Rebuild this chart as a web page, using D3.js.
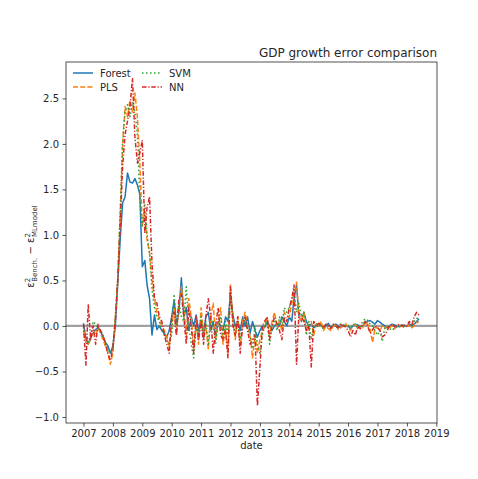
<!DOCTYPE html>
<html>
<head>
<meta charset="utf-8">
<script src="https://cdnjs.cloudflare.com/ajax/libs/d3/7.8.5/d3.min.js"></script>
<style>
  html, body { margin: 0; padding: 0; background: #ffffff; }
  svg text { font-family: "DejaVu Sans", sans-serif; fill: #262626; }
</style>
</head>
<body>
<svg id="chart" width="478" height="479"></svg>
<script>
// Monthly squared-error differences (benchmark minus model), Jan 2007 onward
const startMonth = new Date(2007, 0, 1);

const forest = [
  0.03, -0.15, -0.2, -0.12, -0.08, -0.04, -0.02, -0.06, -0.12, -0.18, -0.22, -0.3,
  -0.22, 0.0, 0.45, 0.95, 1.35, 1.42, 1.68, 1.58, 1.57, 1.62, 1.55, 1.45,
  0.65, 0.72, 0.45, 0.3, -0.1, 0.12, -0.04, 0.0, -0.05, -0.08, -0.12, -0.05,
  0.1, 0.28, 0.02, 0.15, 0.53, 0.1, 0.2, -0.05, 0.1, 0.0, 0.12, -0.05,
  0.05, -0.08, 0.1, 0.15, -0.05, 0.05, -0.12, 0.05, 0.0, -0.05, 0.1, 0.05,
  0.34, 0.12, 0.0, 0.05, -0.05, 0.1, 0.0, 0.1, -0.08, 0.05, -0.05, -0.12,
  -0.05, 0.0, -0.02, 0.05, 0.0, -0.05, 0.0, 0.02, 0.0, 0.1, 0.05, 0.0,
  0.1, 0.05, 0.3, 0.45, 0.1, 0.05, 0.15, 0.05, 0.0, 0.02, -0.02, 0.0,
  0.0, 0.02, -0.02, 0.0, 0.03, -0.02, 0.0, 0.02, 0.0, -0.02, 0.01, 0.0,
  0.0, -0.03, 0.0, 0.02, 0.01, -0.01, 0.0, 0.03, 0.05, 0.06, 0.04, 0.02,
  0.06, 0.04, 0.02, 0.0, -0.02, 0.0, 0.02, 0.01, 0.0, -0.01, 0.01, 0.0,
  0.0, 0.02, 0.0, 0.02, 0.05, 0.08
];

const pls = [
  -0.05, -0.18, -0.2, -0.15, -0.05, -0.1, -0.02, -0.08, -0.15, -0.22, -0.3, -0.42,
  -0.3, 0.1, 0.5, 1.2, 2.0, 2.41, 2.3, 2.48, 2.35, 2.56, 2.3, 1.8,
  1.1, 1.25, 0.95, 0.8, 0.5, 0.3, 0.15, 0.08, 0.0, -0.05, -0.12, -0.22,
  0.0, 0.2, -0.1, 0.25, 0.43, 0.2, -0.1, 0.3, 0.1, -0.25, 0.05, -0.2,
  0.2, -0.1, 0.0, -0.25, 0.1, 0.25, -0.15, 0.05, 0.2, -0.2, 0.0, -0.3,
  0.45, 0.05, -0.15, 0.1, -0.2, 0.05, 0.15, 0.0, -0.1, -0.35, -0.1, -0.3,
  -0.15, -0.05, 0.0, 0.1, -0.1, 0.05, 0.15, 0.0, 0.05, -0.05, 0.15, 0.1,
  0.1, 0.25, 0.35, 0.48, 0.1, 0.05, 0.15, -0.05, 0.0, 0.05, -0.1, 0.02,
  0.0, 0.05, -0.05, 0.0, -0.03, -0.05, 0.0, 0.02, -0.04, -0.02, 0.0, 0.03,
  -0.02, -0.05, 0.0, 0.02, -0.03, 0.0, -0.02, 0.04, 0.02, -0.04, -0.18, -0.02,
  -0.02, -0.05, 0.0, -0.03, 0.0, -0.02, 0.01, -0.03, 0.0, -0.01, 0.0, -0.02,
  0.0, 0.01, -0.02, 0.0, 0.03, 0.05
];

const svm = [
  0.0, -0.1, -0.18, -0.1, 0.05, 0.02, -0.02, -0.05, -0.12, -0.18, -0.25, -0.3,
  -0.25, 0.1, 0.5, 1.25, 2.0, 2.35, 2.43, 2.3, 2.46, 2.35, 2.1, 1.4,
  1.1, 1.33, 1.0, 0.8, 0.4, 0.2, 0.1, 0.05, -0.05, -0.1, -0.15, -0.2,
  -0.1, 0.35, 0.0, 0.26, 0.1, 0.05, 0.43, 0.0, -0.2, -0.35, 0.0, -0.1,
  0.1, -0.15, 0.05, -0.2, 0.1, 0.0, -0.2, 0.05, 0.1, -0.15, 0.05, -0.1,
  0.4, 0.1, -0.1, 0.05, -0.15, 0.0, 0.1, -0.05, -0.1, -0.25, 0.0, -0.2,
  -0.3, -0.1, 0.0, 0.05, -0.2, 0.0, 0.05, -0.05, 0.1, 0.0, 0.2, 0.15,
  0.2, 0.3, 0.4, 0.15, 0.25, 0.1, 0.15, -0.1, 0.05, -0.15, 0.0, 0.02,
  0.02, 0.0, -0.03, 0.02, 0.0, -0.02, 0.01, 0.0, -0.03, 0.02, 0.0, 0.01,
  0.0, -0.02, 0.02, 0.01, -0.02, 0.0, 0.05, 0.08, 0.06, 0.02, 0.0, -0.05,
  -0.1, -0.05, -0.17, -0.02, 0.0, -0.03, -0.05, -0.02, -0.01, 0.0, 0.01, -0.02,
  0.0, 0.02, 0.0, 0.05, 0.08, 0.1
];

const nn = [
  0.02, -0.43, 0.24, -0.15, 0.0, -0.2, 0.02, -0.05, -0.1, -0.2, -0.3, -0.38,
  -0.25, 0.05, 0.5, 1.1, 1.75, 2.1, 2.25, 2.41, 2.72, 2.08, 1.79, 1.9,
  2.04, 1.02, 1.3, 1.42, 0.7, 0.3, 0.25, 0.1, 0.05, -0.1, -0.2, -0.3,
  0.1, 0.15, -0.1, 0.3, 0.35, 0.1, -0.2, 0.2, 0.0, -0.3, 0.1, -0.15,
  0.05, -0.2, 0.1, 0.3, 0.1, -0.3, 0.0, 0.2, -0.1, -0.15, -0.05, -0.35,
  0.43, 0.0, -0.1, 0.1, -0.3, 0.0, 0.1, -0.05, -0.2, -0.15, -0.1, -0.88,
  -0.45, 0.0, 0.05, 0.1, -0.15, 0.0, 0.1, 0.02, -0.05, -0.15, 0.1, 0.05,
  0.2, 0.3, 0.45, -0.42, 0.15, 0.1, 0.05, -0.05, 0.0, -0.45, 0.05, 0.0,
  0.03, 0.0, -0.02, 0.02, 0.0, -0.03, 0.02, 0.0, -0.02, 0.02, 0.0, -0.01,
  -0.05, -0.12, -0.05, -0.1, 0.0, -0.03, 0.02, 0.05, 0.0, -0.08, -0.04, 0.0,
  -0.02, -0.05, -0.12, -0.1, -0.05, 0.0, 0.02, -0.01, 0.0, 0.02, 0.0, 0.01,
  0.0, 0.05, 0.0, 0.1, 0.15, 0.12
];

const seriesNames = ["Forest", "PLS", "SVM", "NN"];
const seriesColors = ["#1f77b4", "#ff7f0e", "#2ca02c", "#d62728"];
const seriesDash = [null, "5,2.2", "1.5,2.5", "4.5,1.8,1.2,1.8"];
const yTicks = [-1.0, -0.5, 0.0, 0.5, 1.0, 1.5, 2.0, 2.5];
const xTickYears = [2007, 2008, 2009, 2010, 2011, 2012, 2013, 2014, 2015, 2016, 2017, 2018, 2019];

const seriesValues = [forest, pls, svm, nn];
const dates = forest.map((_, i) => d3.timeMonth.offset(startMonth, i));

const svg = d3.select("#chart");
const m = { left: 66, right: 437, top: 62, bottom: 423 };

const x = d3.scaleTime()
  .domain([new Date(2006, 4, 29), new Date(2019, 0, 10)])
  .range([m.left, m.right]);
const y = d3.scaleLinear()
  .domain([-1.066, 2.9])
  .range([m.bottom, m.top]);

// clip for the plotting area
svg.append("defs").append("clipPath").attr("id", "plotClip")
  .append("rect")
  .attr("x", m.left).attr("y", m.top)
  .attr("width", m.right - m.left).attr("height", m.bottom - m.top);

const plot = svg.append("g").attr("clip-path", "url(#plotClip)");

// zero reference line
plot.append("line")
  .attr("x1", m.left).attr("x2", m.right)
  .attr("y1", y(0)).attr("y2", y(0))
  .attr("stroke", "#808080").attr("stroke-opacity", 0.75)
  .attr("stroke-width", 2.2);

const line = d3.line()
  .x((d, i) => x(dates[i]))
  .y(d => y(d));

seriesValues.forEach((vals, k) => {
  plot.append("path")
    .datum(vals)
    .attr("d", line)
    .attr("fill", "none")
    .attr("stroke", seriesColors[k])
    .attr("stroke-width", 1.5)
    .attr("stroke-linejoin", "round")
    .attr("stroke-dasharray", seriesDash[k]);
});

// axes
const xAxis = d3.axisBottom(x)
  .tickValues(xTickYears.map(yr => new Date(yr, 0, 1)))
  .tickFormat(d3.timeFormat("%Y"))
  .tickSize(3.5).tickPadding(3.5);
const yAxis = d3.axisLeft(y)
  .tickValues(yTicks)
  .tickFormat(d3.format(".1f"))
  .tickSize(3.5).tickPadding(3.5);

const gx = svg.append("g").attr("transform", `translate(0,${m.bottom})`).call(xAxis);
const gy = svg.append("g").attr("transform", `translate(${m.left},0)`).call(yAxis);
[gx, gy].forEach(g => {
  g.select(".domain").remove();
  g.selectAll(".tick line").attr("stroke", "#262626").attr("stroke-width", 0.8);
  g.selectAll(".tick text").attr("font-size", 10).attr("font-family", "DejaVu Sans").attr("fill", "#262626");
});
gy.selectAll(".tick text").text(d => d < 0 ? "\u2212" + Math.abs(d).toFixed(1) : d.toFixed(1));

// frame
svg.append("rect")
  .attr("x", m.left).attr("y", m.top)
  .attr("width", m.right - m.left).attr("height", m.bottom - m.top)
  .attr("fill", "none").attr("stroke", "#262626").attr("stroke-width", 0.8);

// title
svg.append("text")
  .attr("x", m.right).attr("y", 57)
  .attr("text-anchor", "end")
  .attr("font-size", 12)
  .text("GDP growth error comparison");

// x label
svg.append("text")
  .attr("x", (m.left + m.right) / 2).attr("y", 449)
  .attr("text-anchor", "middle")
  .attr("font-size", 10)
  .text("date");

// y label: eps^2_Bench. - eps^2_MLmodel
const yl = svg.append("text")
  .attr("transform", `translate(34,${(m.top + m.bottom) / 2 + 4}) rotate(-90)`)
  .attr("text-anchor", "middle")
  .attr("font-size", 10);
yl.append("tspan").text("\u03b5");
yl.append("tspan").attr("font-size", 7).attr("dy", -4).text("2");
yl.append("tspan").attr("font-size", 7).attr("dx", -4).attr("dy", 7).text("Bench.");
yl.append("tspan").attr("dy", -3).text(" \u2212 \u03b5");
yl.append("tspan").attr("font-size", 7).attr("dy", -4).text("2");
yl.append("tspan").attr("font-size", 7).attr("dx", -4).attr("dy", 7).text("MLmodel");

// legend
const legend = svg.append("g");
const legendPos = [[73, 73], [73, 87], [142, 73], [142, 87]];
seriesNames.forEach((name, k) => {
  const [lx, ly] = legendPos[k];
  legend.append("line")
    .attr("x1", lx).attr("x2", lx + 20)
    .attr("y1", ly).attr("y2", ly)
    .attr("stroke", seriesColors[k]).attr("stroke-width", 1.5)
    .attr("stroke-dasharray", seriesDash[k]);
  legend.append("text")
    .attr("x", lx + 27).attr("y", ly + 3.5)
    .attr("font-size", 10)
    .text(name);
});
</script>
</body>
</html>
